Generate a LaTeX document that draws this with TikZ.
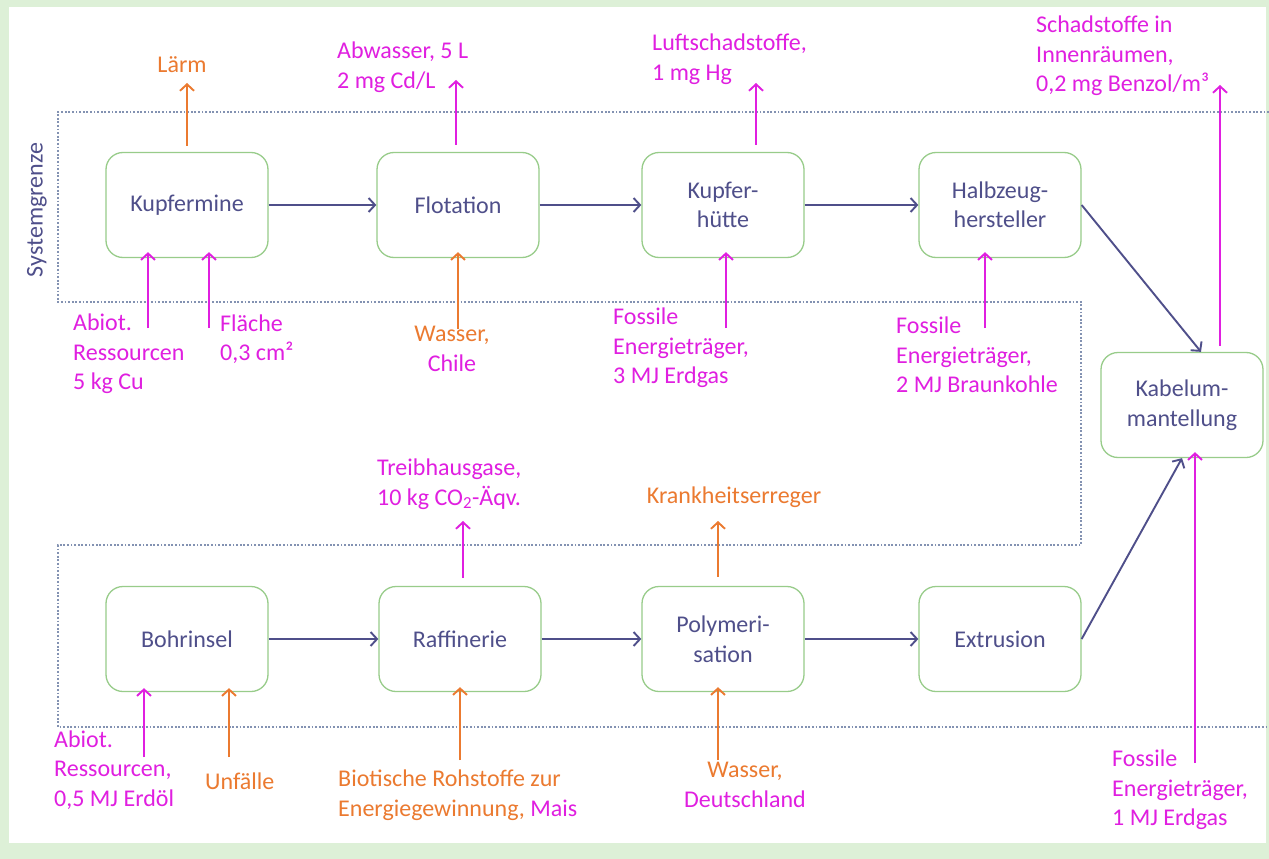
\documentclass[tikz,border=0pt]{standalone}
\usepackage{fontspec}
\setmainfont{Carlito}
\usetikzlibrary{arrows.meta}
\definecolor{mag}{HTML}{E01FE0}
\definecolor{org}{HTML}{EB7A30}
\definecolor{dblue}{HTML}{4F4F8A}
\definecolor{boxgreen}{HTML}{98CC8A}
\definecolor{bggreen}{HTML}{DDF0D7}
\definecolor{dotc}{HTML}{8392B2}
\begin{document}
\begin{tikzpicture}[x=1pt,y=-1pt,
  txt/.style={font=\fontsize{24}{29.5}\selectfont},
  proc/.style={txt, draw=boxgreen, line width=1.3pt, rounded corners=17pt, fill=white,
    minimum width=162pt, minimum height=105pt, text=dblue, align=center, inner sep=0pt},
  lab/.style={txt, align=left, anchor=west, inner sep=0pt},
  tip/.style={-{Straight Barb[length=6.5pt,width=14pt,line width=1.9pt]}},
  flow/.style={draw=dblue, line width=1.9pt, tip},
  magarr/.style={draw=mag, line width=1.9pt, tip},
  orgarr/.style={draw=org, line width=1.9pt, tip}
]
\useasboundingbox (0,0) rectangle (1269,859);
\fill[bggreen] (0,0) rectangle (1269,859);
\fill[white] (9,7) rectangle (1266,843);

% system boundary
\draw[dotc, line width=1.8pt, dash pattern=on 1.8pt off 1.8pt]
  (1269,112) -- (58,112) -- (58,302) -- (1081,302) -- (1081,545) -- (58,545) -- (58,727) -- (1269,727);
\node[txt, rotate=90, text=dblue, inner sep=0pt] (sg) at (37,210) {Systemgrenze};

% process boxes
\node[proc] (mine) at (187,205) {Kupfermine};
\node[proc] (flot) at (458,205) {Flotation};
\node[proc] (huet) at (723,205) {Kupfer-\\hütte};
\node[proc] (halb) at (1000,205) {Halbzeug-\\hersteller};
\node[proc] (kab)  at (1182,405) {Kabelum-\\mantellung};
\node[proc] (bohr) at (187,639) {Bohrinsel};
\node[proc] (raff) at (460,639) {Raffinerie};
\node[proc] (poly) at (723,639) {Polymeri-\\sation};
\node[proc] (extr) at (1000,639) {Extrusion};

% product flows
\draw[flow] (mine.east) -- (flot.west);
\draw[flow] (flot.east) -- (huet.west);
\draw[flow] (huet.east) -- (halb.west);
\draw[flow] (halb.east) -- ([xshift=19pt]kab.north);
\draw[flow] (bohr.east) -- (raff.west);
\draw[flow] (raff.east) -- (poly.west);
\draw[flow] (poly.east) -- (extr.west);
\draw[flow] (extr.east) -- (kab.south);

% output labels
\node[txt, text=org, inner sep=0pt] (laerm) at (182,65) {Lärm};
\node[lab, text=mag] (abw) at (337,67) {Abwasser, 5 L\\2 mg Cd/L};
\node[lab, text=mag] (luft) at (652,59) {Luftschadstoffe,\\1 mg Hg};
\node[lab, text=mag] (schad) at (1036,56) {Schadstoffe in\\Innenräumen,\\0,2 mg Benzol/m³};
\node[lab, text=mag] (treib) at (377,484) {Treibhausgase,\\10 kg CO\textsubscript{2}-Äqv.};
\node[txt, text=org, inner sep=0pt] (krank) at (734,497) {Krankheitserreger};

\coordinate (cLaerm) at (187,83);
\coordinate (cAbw) at (456,80);
\coordinate (cLuft) at (756,83);
\coordinate (cSchad) at (1220,85);
\coordinate (cTreib) at (463,521);
\coordinate (cKrank) at (718,521);
\draw[orgarr] (mine.north -| cLaerm) ++(0,-6) -- (cLaerm);
\draw[magarr] (flot.north -| cAbw) ++(0,-7) -- (cAbw);
\draw[magarr] (huet.north -| cLuft) ++(0,-7) -- (cLuft);
\draw[magarr] (kab.north -| cSchad) ++(0,-6) -- (cSchad);
\draw[magarr] (raff.north -| cTreib) ++(0,-8) -- (cTreib);
\draw[orgarr] (poly.north -| cKrank) ++(0,-9) -- (cKrank);

% input labels
\node[lab, text=mag] (abiot1) at (73,354) {Abiot.\\Ressourcen\\5 kg Cu};
\node[lab, text=mag] (flae) at (220,339) {Fläche\\0,3 cm²};
\node[txt, align=center, inner sep=0pt] (wch) at (452,349) {\textcolor{org}{Wasser,}\\\textcolor{mag}{Chile}};
\node[lab, text=mag] (foss1) at (613,348) {Fossile\\Energieträger,\\3 MJ Erdgas};
\node[lab, text=mag] (foss2) at (896,355) {Fossile\\Energieträger,\\2 MJ Braunkohle};
\node[lab, text=mag] (abiot2) at (54,770) {Abiot.\\Ressourcen,\\0,5 MJ Erdöl};
\node[lab, text=org] (unf) at (205,781) {Unfälle};
\node[lab, text=org] (biot) at (338,795) {Biotische Rohstoffe zur\\Energiegewinnung, \textcolor{mag}{Mais}};
\node[txt, align=center, inner sep=0pt] (wde) at (745,785) {\textcolor{org}{Wasser,}\\\textcolor{mag}{Deutschland}};
\node[lab, text=mag] (foss3) at (1112,790) {Fossile\\Energieträger,\\1 MJ Erdgas};

\coordinate (iA) at (148,328);
\coordinate (iB) at (209,328);
\coordinate (iC) at (458,329);
\coordinate (iD) at (726,328);
\coordinate (iE) at (985,328);
\coordinate (iF) at (144,757);
\coordinate (iG) at (229,757);
\coordinate (iH) at (460,760);
\coordinate (iI) at (718,760);
\coordinate (iJ) at (1195,763);
\draw[magarr] (iA) -- ([yshift=6pt]mine.south -| iA);
\draw[magarr] (iB) -- ([yshift=6pt]mine.south -| iB);
\draw[orgarr] (iC) -- ([yshift=6pt]flot.south -| iC);
\draw[magarr] (iD) -- ([yshift=6pt]huet.south -| iD);
\draw[magarr] (iE) -- ([yshift=6pt]halb.south -| iE);
\draw[magarr] (iF) -- ([yshift=4pt]bohr.south -| iF);
\draw[orgarr] (iG) -- ([yshift=4pt]bohr.south -| iG);
\draw[orgarr] (iH) -- ([yshift=5pt]raff.south -| iH);
\draw[orgarr] (iI) -- ([yshift=5pt]poly.south -| iI);
\draw[magarr] (iJ) -- ([yshift=6pt]kab.south -| iJ);
\end{tikzpicture}
\end{document}
